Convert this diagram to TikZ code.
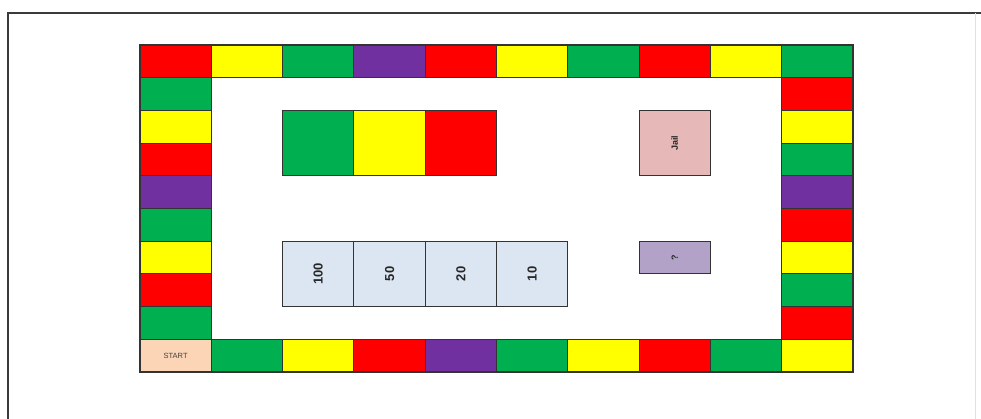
\documentclass[tikz,border=0pt]{standalone}
\usepackage{fontspec}
\setmainfont{Liberation Sans}
\usepackage{tikz}
\usetikzlibrary{positioning, calc}
\usepackage{xcolor}
\definecolor{boardred}{HTML}{FF0000}
\definecolor{boardyellow}{HTML}{FFFF00}
\definecolor{boardgreen}{HTML}{00B050}
\definecolor{boardpurple}{HTML}{7030A0}
\definecolor{jailpink}{HTML}{E6B9B8}
\definecolor{bankblue}{HTML}{DCE6F2}
\definecolor{quizlilac}{HTML}{B3A2C7}
\definecolor{startpeach}{HTML}{FBD5B5}
\definecolor{edgegrey}{HTML}{333333}
\definecolor{framegrey}{HTML}{3A3A3A}
\tikzset{
  cell/.style={rectangle, draw=edgegrey, line width=1.1pt,
               minimum width=71.3pt, minimum height=32.7pt,
               inner sep=0pt, outer sep=0pt},
  bigcell/.style={cell, minimum height=65.4pt},
  startcell/.style={cell, fill=startpeach, font=\fontsize{7.5}{8}\selectfont, text=black!75},
  banklab/.style={font=\fontsize{13}{15}\selectfont\bfseries, rotate=90, text=black!85},
  smalllab/.style={banklab, font=\fontsize{9}{10}\selectfont\bfseries},
  frameline/.style={draw=framegrey, line width=2.5pt},
}

\begin{document}
\begin{tikzpicture}[x=1pt, y=-1pt]
  \useasboundingbox (0,0) rectangle (981,419);

  % --- Outer frame ---
  \coordinate (fbl) at (8,425);
  \coordinate (ftl) at (8,13);
  \coordinate (ftr) at (981,13);
  \coordinate (fr1) at (975,13);
  \coordinate (fr2) at (975,425);
  \draw[frameline] (fbl) -- (ftl) -- (ftr);
  \draw[draw=black!12, line width=1pt] (fr1) -- (fr2);

  % --- Track: top row ---
  \foreach \c [count=\i from 0] in {red,yellow,green,purple,red,yellow,green,red,yellow,green}
    \node[cell, fill=board\c] (top\i) at (175.65+71.3*\i, 61.35) {};

  % --- Track: left column ---
  \foreach \c [count=\i from 1] in {green,yellow,red,purple,green,yellow,red,green}
    \node[cell, fill=board\c] (left\i) at (175.65, 61.35+32.7*\i) {};
  \node[startcell] (start) at (175.65, 355.65) {START};

  % --- Track: bottom row ---
  \foreach \c [count=\i from 1] in {green,yellow,red,purple,green,yellow,red,green,yellow}
    \node[cell, fill=board\c] (bot\i) at (175.65+71.3*\i, 355.65) {};

  % --- Track: right column ---
  \foreach \c [count=\i from 1] in {red,yellow,green,purple,red,yellow,green,red}
    \node[cell, fill=board\c] (right\i) at (817.35, 61.35+32.7*\i) {};

  % --- Colour cards ---
  \node[bigcell, fill=boardgreen]  (cardgreen)  at (318.25, 143.1) {};
  \node[bigcell, fill=boardyellow, right=0pt of cardgreen] (cardyellow) {};
  \node[bigcell, fill=boardred,    right=0pt of cardyellow] (cardred) {};

  % --- Jail ---
  \node[bigcell, fill=jailpink] (jail) at (674.75, 143.1) {};
  \node[smalllab] (jaillab) at (jail) {Jail};

  % --- Bank ---
  \node[bigcell, fill=bankblue] (bank100) at (318.25, 273.9) {};
  \node[bigcell, fill=bankblue, right=0pt of bank100] (bank50) {};
  \node[bigcell, fill=bankblue, right=0pt of bank50]  (bank20) {};
  \node[bigcell, fill=bankblue, right=0pt of bank20]  (bank10) {};
  \node[banklab] (lab100) at (bank100) {100};
  \node[banklab] (lab50)  at (bank50)  {50};
  \node[banklab] (lab20)  at (bank20)  {20};
  \node[banklab] (lab10)  at (bank10)  {10};

  % --- Question ---
  \node[cell, fill=quizlilac] (quiz) at (674.75, 257.55) {};
  \node[smalllab] (quizlab) at (quiz) {?};

\end{tikzpicture}
\end{document}
